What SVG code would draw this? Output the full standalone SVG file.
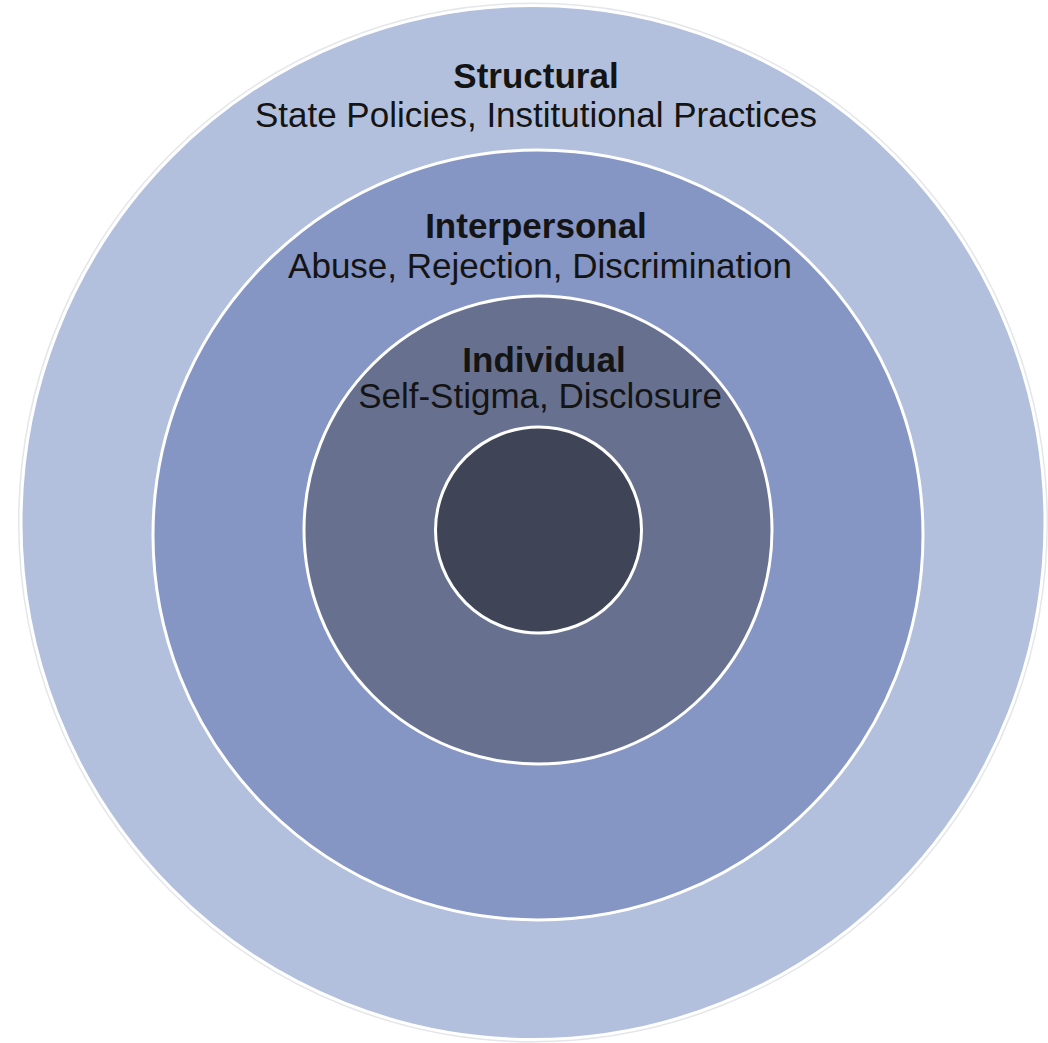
<svg xmlns="http://www.w3.org/2000/svg" width="1048" height="1043" viewBox="0 0 1048 1043">
<style>
.ring{stroke:#ffffff;stroke-width:3}
.t{font-family:"Liberation Sans",Arial,sans-serif;font-size:35px;fill:#141414;text-anchor:middle}
.b{font-weight:bold}
</style>
<rect x="0" y="0" width="1048" height="1043" fill="#ffffff"/>
<g id="structural">
<ellipse cx="533" cy="522.5" rx="513" ry="518" fill="none" stroke="#e4e6ea" stroke-width="4"/>
<ellipse class="ring" cx="533" cy="522.5" rx="512" ry="517" fill="#b2c0dd"/>
<text class="t b" x="536" y="88">Structural</text>
<text class="t" x="536" y="127">State Policies, Institutional Practices</text>
</g>
<g id="interpersonal">
<circle class="ring" cx="538" cy="535" r="385" fill="#8595c4"/>
<text class="t b" x="536" y="238">Interpersonal</text>
<text class="t" x="540" y="278">Abuse, Rejection, Discrimination</text>
</g>
<g id="individual">
<circle class="ring" cx="538" cy="530" r="234" fill="#67718f"/>
<text class="t b" x="544" y="372">Individual</text>
<text class="t" x="540" y="408">Self-Stigma, Disclosure</text>
</g>
<g id="core">
<circle class="ring" cx="538.5" cy="530" r="103" fill="#3f4457"/>
</g>
<g id="connectors"/>
</svg>
